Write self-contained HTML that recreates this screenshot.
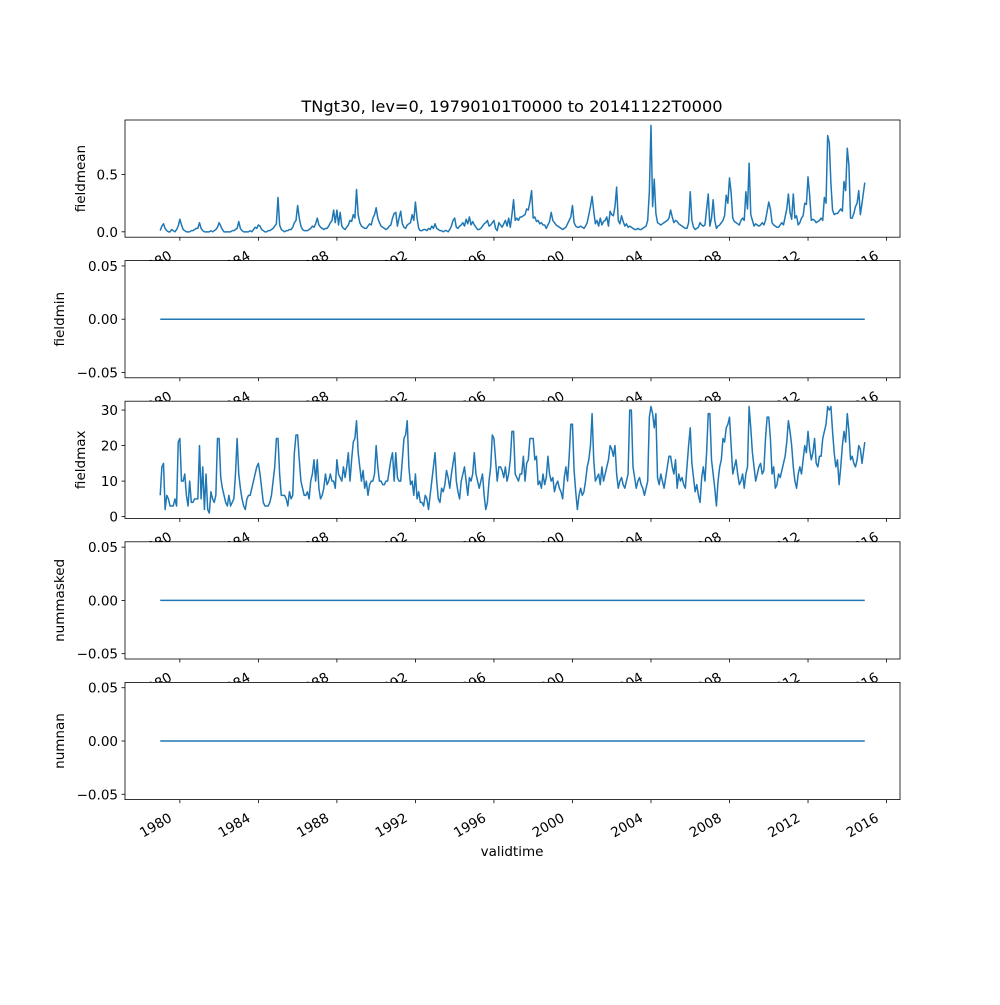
<!DOCTYPE html>
<html><head><meta charset="utf-8"><style>
body{margin:0;background:#fff}
svg{font-family:"DejaVu Sans","Liberation Sans",sans-serif}
</style></head><body>
<svg id="fig" width="1000" height="1000" viewBox="0 0 1000 1000">
<rect width="1000" height="1000" fill="#fff"/>
<text x="512" y="112" font-size="16.2" text-anchor="middle">TNgt30, lev=0, 19790101T0000 to 20141122T0000</text>
<text x="512" y="856" font-size="13.5" text-anchor="middle">validtime</text>
</svg>
<script>
const xTickYears=[1980,1984,1988,1992,1996,2000,2004,2008,2012,2016];
const fieldmean=[
.01,.05,.07,.03,.01,.0,.0,.02,.01,.0,.02,.05,
.11,.06,.02,.01,.0,.0,.0,.01,.01,.02,.03,.03,
.08,.03,.01,.0,.0,.0,.0,.01,.0,.01,.02,.04,
.08,.05,.02,.0,.0,.0,.0,.0,.01,.01,.02,.03,
.09,.03,.01,.0,.0,.0,.0,.01,.0,.02,.04,.03,
.06,.05,.02,.01,.0,.0,.01,.01,.02,.03,.05,.07,
.30,.06,.02,.01,.0,.01,.01,.02,.02,.04,.08,.10,
.23,.12,.05,.02,.01,.01,.01,.02,.03,.05,.04,.07,
.12,.06,.04,.03,.02,.03,.03,.05,.08,.10,.19,.08,
.19,.06,.17,.05,.03,.02,.04,.06,.10,.09,.15,.12,
.37,.15,.08,.05,.04,.03,.03,.05,.07,.06,.12,.15,
.21,.12,.08,.05,.04,.03,.02,.03,.05,.06,.12,.16,
.17,.05,.12,.18,.07,.04,.03,.06,.07,.08,.15,.10,
.26,.12,.03,.01,.01,.02,.02,.01,.03,.02,.05,.03,
.07,.03,.02,.01,.01,.0,.01,.01,.0,.02,.05,.10,
.12,.04,.03,.05,.06,.08,.05,.11,.07,.13,.06,.09,
.06,.04,.02,.02,.03,.05,.07,.08,.10,.05,.06,.08,
.10,.03,.01,.08,.06,.04,.07,.10,.05,.12,.04,.15,
.28,.10,.12,.10,.13,.13,.14,.15,.20,.19,.26,.36,
.12,.13,.09,.10,.07,.08,.06,.06,.03,.06,.09,.17,
.10,.08,.06,.05,.04,.03,.02,.03,.04,.07,.10,.13,
.23,.08,.05,.04,.04,.05,.04,.03,.05,.08,.15,.22,
.31,.18,.07,.10,.05,.12,.06,.09,.10,.13,.05,.18,
.15,.14,.22,.39,.10,.07,.14,.09,.05,.07,.04,.05,
.04,.03,.02,.02,.03,.02,.02,.03,.04,.05,.10,.35,
.93,.22,.46,.16,.08,.07,.06,.07,.08,.09,.10,.12,
.19,.13,.08,.10,.09,.07,.06,.05,.04,.03,.03,.08,
.35,.10,.04,.02,.03,.04,.08,.06,.05,.06,.20,.33,
.05,.12,.28,.10,.03,.05,.06,.08,.10,.14,.32,.25,
.47,.34,.12,.09,.08,.07,.06,.10,.12,.10,.35,.20,
.60,.15,.10,.05,.07,.06,.05,.06,.08,.06,.10,.18,
.26,.20,.08,.06,.05,.04,.04,.06,.08,.06,.13,.20,
.33,.17,.11,.33,.12,.14,.06,.08,.12,.14,.25,.24,
.48,.32,.10,.11,.10,.08,.09,.10,.12,.10,.30,.25,
.84,.78,.42,.19,.15,.16,.16,.18,.20,.18,.44,.36,
.73,.58,.12,.12,.16,.22,.25,.36,.15,.25,.43];
const fieldmax=[
6,14,15,2,6,5,3,3,3,5,3,21,
22,10,10,12,6,3,10,4,4,5,5,5,
20,5,14,2,12,2,1,7,5,4,6,22,
22,11,8,6,4,3,6,3,4,5,12,22,
12,8,5,3,2,5,6,6,8,10,12,14,
15,12,8,4,3,3,3,4,6,10,14,22,
22,12,6,6,6,5,3,7,5,6,18,23,
23,16,10,8,6,6,7,5,10,12,16,10,
16,8,5,6,8,12,9,10,12,10,10,8,
16,12,11,10,14,11,14,18,10,16,21,22,
27,18,14,10,13,8,10,6,9,10,10,12,
20,14,10,10,9,9,10,10,13,16,18,10,
18,11,10,10,16,22,23,27,14,9,10,6,
12,5,7,4,4,3,6,5,2,6,10,14,
18,10,5,4,8,7,9,13,11,8,12,15,
18,10,7,5,10,12,14,10,6,11,10,12,
18,12,10,8,10,12,6,2,4,10,14,23,
22,16,10,14,14,13,11,14,10,12,16,24,
24,12,11,10,12,12,17,10,15,16,22,22,
22,16,17,9,10,8,12,9,11,17,12,10,
11,7,9,10,8,7,5,11,14,10,17,26,
26,13,7,2,6,8,6,7,10,14,16,20,
29,16,10,11,12,9,14,10,12,14,16,20,
19,17,20,12,8,10,11,9,8,10,12,30,
30,14,11,8,10,11,9,8,6,8,10,28,
31,29,25,29,11,9,12,10,8,11,14,17,
17,14,12,16,8,12,10,11,9,8,14,20,
25,15,11,7,9,6,4,11,14,10,18,29,
29,16,12,8,3,10,14,16,22,21,25,26,
28,20,12,14,16,12,9,10,12,8,12,14,
31,25,18,14,10,12,14,15,12,13,22,28,
28,22,12,14,8,9,12,11,13,15,17,21,
27,24,20,14,10,8,12,14,12,16,20,18,
24,19,16,18,22,15,14,17,17,22,24,26,
31,30,31,24,18,14,16,9,14,20,24,21,
29,24,16,17,15,14,16,20,19,15,21];
const startYear=1979;
const panelNames=["fieldmean","fieldmin","fieldmax","nummasked","numnan"];
const panelYLims=[[-0.047,0.977],[-0.055,0.055],[-0.5,32.5],[-0.055,0.055],[-0.055,0.055]];
const panelYTicks=[[0,0.5],[-0.05,0,0.05],[0,10,20,30],[-0.05,0,0.05],[-0.05,0,0.05]];
const panelYTickLabels=[["0.0","0.5"],["\u22120.05","0.00","0.05"],["0","10","20","30"],["\u22120.05","0.00","0.05"],["\u22120.05","0.00","0.05"]];

const NS="http://www.w3.org/2000/svg";
const svg=document.getElementById('fig');
const L=125,R=900,TOP=120,H=117.2,GAP=23.4;
const nPts=fieldmax.length;
const t0=startYear, t1=startYear+(nPts-1)/12+21/365;
const span=t1-t0, xmin=t0-0.05*span, xmax=t1+0.05*span;
function xScale(t){return L+(t-xmin)/(xmax-xmin)*(R-L);}
function mk(tag,attrs){const e=document.createElementNS(NS,tag);for(const k in attrs)e.setAttribute(k,attrs[k]);return e;}
const series=[fieldmean,fieldmax.map(()=>0),fieldmax,fieldmax.map(()=>0),fieldmax.map(()=>0)];
for(let p=0;p<5;p++){
  const top=TOP+p*(H+GAP), bot=top+H;
  const [y0,y1]=panelYLims[p];
  const yScale=v=>bot-(v-y0)/(y1-y0)*H;
  const g=mk('g',{});
  
  
  svg.appendChild(g);
  g.appendChild(mk('rect',{x:L,y:top,width:R-L,height:H,fill:'#fff'}));
  const data=series[p];
  let d='';
  for(let i=0;i<data.length;i++){
    const t=(i===data.length-1)?t1:startYear+i/12;
    d+=(i?'L':'M')+xScale(t).toFixed(2)+','+yScale(data[i]).toFixed(2);
  }
  const line=mk('path',{d:d,fill:'none',stroke:'#1f77b4','stroke-width':1.5,'stroke-linejoin':'round'});
  
  
  g.appendChild(line);
  const frame=mk('rect',{x:L,y:top,width:R-L,height:H,fill:'none',stroke:'#000','stroke-width':0.8});
  
  
  g.appendChild(frame);
  panelYTicks[p].forEach((v,k)=>{
    const y=yScale(v);
    g.appendChild(mk('line',{x1:L-3.5,x2:L,y1:y,y2:y,stroke:'#000','stroke-width':0.8}));
    const tx=mk('text',{x:L-7,y:y+5,'font-size':13.5,'text-anchor':'end'});
    tx.textContent=panelYTickLabels[p][k];
    
    
    g.appendChild(tx);
  });
  const yl=mk('text',{x:0,y:0,'font-size':13.5,'text-anchor':'middle',transform:`translate(${p===0||p===2?85:64},${top+H/2}) rotate(-90)`});
  yl.textContent=panelNames[p];
  
  
  g.appendChild(yl);
  xTickYears.forEach(yr=>{
    const x=xScale(yr);
    g.appendChild(mk('line',{x1:x,x2:x,y1:bot,y2:bot+3.5,stroke:'#000','stroke-width':0.8}));
    const tx=mk('text',{x:0,y:0,'font-size':13.5,'text-anchor':'end',transform:`translate(${x-7},${bot+21}) rotate(-30)`});
    tx.textContent=yr;
    
    
    g.appendChild(tx);
  });
}
</script>
</body></html>
